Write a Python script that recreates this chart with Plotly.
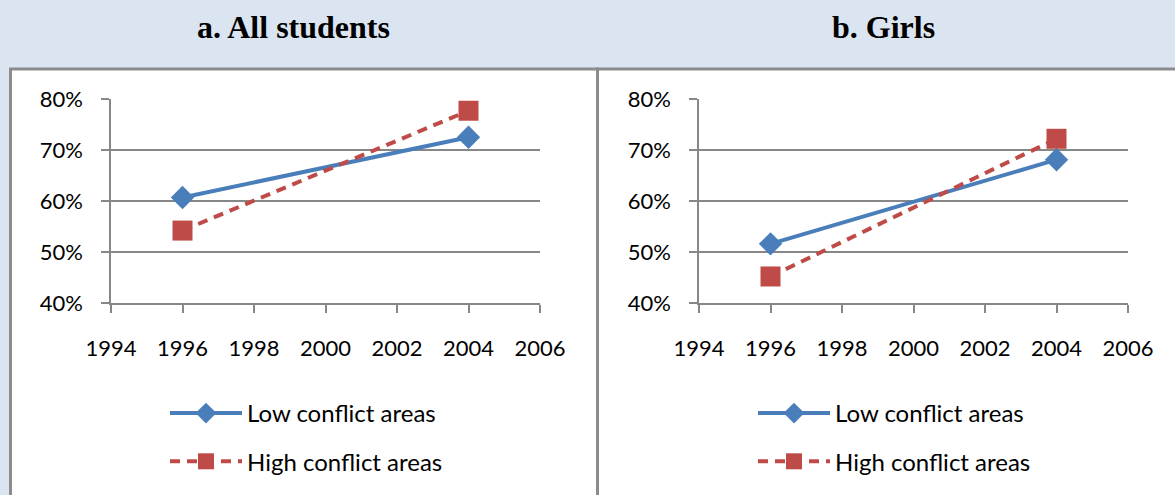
import plotly.graph_objects as go

# ---- data ----
years = [1996, 2004]
all_low = [0.607, 0.725]
all_high = [0.542, 0.777]
girls_low = [0.516, 0.681]
girls_high = [0.452, 0.722]
series_names = ["Low conflict areas", "High conflict areas"]
panel_titles = ["a. All students", "b. Girls"]
x_ticks = [1994, 1996, 1998, 2000, 2002, 2004, 2006]
y_ticks = [0.4, 0.5, 0.6, 0.7, 0.8]

W, H = 1175, 495
def px(x):
    return x / W
def py(y):
    return 1 - y / H

BLUE = "#4A7EBB"
RED = "#BE4B48"
GRID = "#878787"
BORDER = "#8C8C8C"
FONT = "Lato"

fig = go.Figure()

panels = [
    ("x", "y", "legend", all_low, all_high),
    ("x2", "y2", "legend2", girls_low, girls_high),
]
for xa, ya, leg, low, high in panels:
    fig.add_trace(go.Scatter(
        x=years, y=low, xaxis=xa, yaxis=ya, name=series_names[0],
        mode="lines+markers", legend=leg, legendgroup="low" + xa,
        line=dict(color=BLUE, width=4),
        marker=dict(symbol="diamond", size=18, color=BLUE),
    ))
    fig.add_trace(go.Scatter(
        x=years, y=high, xaxis=xa, yaxis=ya, name=series_names[1],
        mode="lines+markers", legend=leg, legendgroup="high" + xa,
        line=dict(color=RED, width=4, dash="10px,7px"),
        marker=dict(symbol="square", size=20, color=RED),
    ))

xdom_a = [px(111), px(540)]
xdom_b = [px(699), px(1128)]
ydom = [py(303), py(99)]

axis_common_x = dict(
    range=[1994, 2006], tickvals=x_ticks, ticktext=[str(v) for v in x_ticks],
    showgrid=False, showline=True, linecolor=GRID, linewidth=1.5,
    ticks="outside", ticklen=8, tickcolor=GRID, tickwidth=1.5,
    zeroline=False, tickfont=dict(family=FONT, size=22, color="#000"),
    ticklabelstandoff=17, automargin=False,
)
axis_common_y = dict(
    range=[0.4, 0.8], tickvals=y_ticks, tickformat=".0%",
    showgrid=True, gridcolor=GRID, gridwidth=1.5,
    showline=True, linecolor=GRID, linewidth=1.5,
    ticks="outside", ticklen=8, tickcolor=GRID, tickwidth=1.5,
    zeroline=False, tickfont=dict(family=FONT, size=22, color="#000"),
    ticklabelstandoff=14, automargin=False,
)

legend_common = dict(
    font=dict(family=FONT, size=24, color="#000"),
    bgcolor="rgba(0,0,0,0)", itemwidth=72, tracegroupgap=14,
    traceorder="grouped", xanchor="left", yanchor="top",
)

fig.update_layout(
    template="none",
    width=W, height=H,
    margin=dict(l=0, r=0, t=0, b=0, autoexpand=False),
    paper_bgcolor="#DBE5F1",
    plot_bgcolor="rgba(0,0,0,0)",
    xaxis=dict(domain=xdom_a, anchor="y", **axis_common_x),
    yaxis=dict(domain=ydom, anchor="x", **axis_common_y),
    xaxis2=dict(domain=xdom_b, anchor="y2", **axis_common_x),
    yaxis2=dict(domain=ydom, anchor="x2", **axis_common_y),
    legend=dict(x=px(165), y=py(391), **legend_common),
    legend2=dict(x=px(753), y=py(391), **legend_common),
    shapes=[
        dict(type="rect", xref="paper", yref="paper", layer="below",
             x0=px(10.5), x1=px(597.5), y0=py(69), y1=py(510),
             fillcolor="white", line=dict(color=BORDER, width=3)),
        dict(type="rect", xref="paper", yref="paper", layer="below",
             x0=px(597.5), x1=px(1190), y0=py(69), y1=py(510),
             fillcolor="white", line=dict(color=BORDER, width=3)),
    ],
    annotations=[
        dict(text="<b>%s</b>" % panel_titles[0], xref="paper", yref="paper",
             x=px(293), y=py(27), showarrow=False, xanchor="center", yanchor="middle",
             font=dict(family="Liberation Serif", size=32, color="#000")),
        dict(text="<b>%s</b>" % panel_titles[1], xref="paper", yref="paper",
             x=px(883), y=py(27), showarrow=False, xanchor="center", yanchor="middle",
             font=dict(family="Liberation Serif", size=32, color="#000")),
    ],
)

fig.write_html("out.html", config={"displayModeBar": False},
               post_script="document.body.style.margin='0';")
